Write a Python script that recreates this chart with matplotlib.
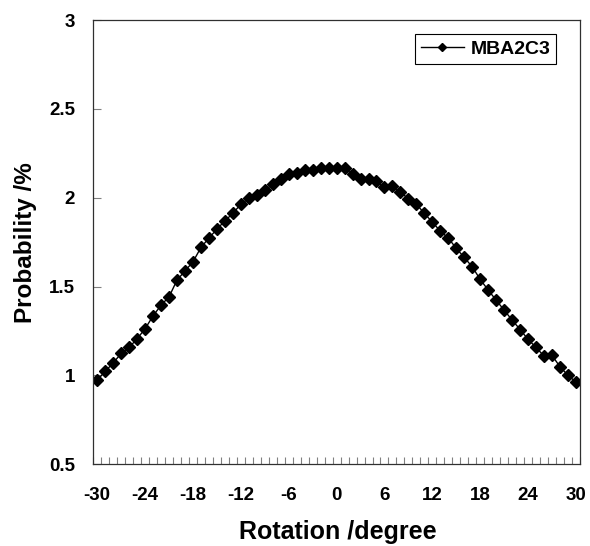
import matplotlib
matplotlib.use("Agg")
import matplotlib.pyplot as plt
import numpy as np

rotation = list(range(-30, 31))
probability = [
    0.973, 1.022, 1.070, 1.123, 1.157, 1.206, 1.262, 1.335, 1.395, 1.442,
    1.536, 1.588, 1.639, 1.720, 1.773, 1.823, 1.870, 1.912, 1.964, 1.996,
    2.018, 2.043, 2.075, 2.108, 2.133, 2.140, 2.155, 2.155, 2.170, 2.170,
    2.168,
    2.165, 2.133, 2.108, 2.103, 2.093, 2.058, 2.065, 2.032, 1.994, 1.964,
    1.912, 1.863, 1.812, 1.773, 1.715, 1.664, 1.611, 1.540, 1.480, 1.423,
    1.367, 1.311, 1.258, 1.202, 1.157, 1.108, 1.112, 1.048, 1.000, 0.962,
]
x_ticks = list(range(-30, 31, 6))
y_ticks = [0.5, 1, 1.5, 2, 2.5, 3]
y_tick_labels = ["0.5", "1", "1.5", "2", "2.5", "3"]
series_name = "MBA2C3"

plt.rcParams['font.family'] = ['Liberation Sans', 'DejaVu Sans']
plt.rcParams['axes.unicode_minus'] = False

fig = plt.figure(figsize=(5.9, 5.46), dpi=100)
ax = fig.add_axes([0.158, 0.150, 0.825, 0.813])

ax.plot(rotation, probability, color="black", lw=1, marker="D",
        markersize=6, label=series_name)

# category-style axis: points sit mid-category, ticks between categories
ax.set_xlim(rotation[0] - 0.5, rotation[-1] + 0.5)
ax.set_ylim(0.5, 3)
ax.set_xticks(x_ticks)
ax.set_xticks(np.arange(rotation[0] - 0.5, rotation[-1] + 1, 1), minor=True)
ax.set_yticks(y_ticks)
ax.set_yticklabels(y_tick_labels)

ax.tick_params(axis="x", which="major", length=0, pad=16.5, labelsize=13.5)
ax.tick_params(axis="x", which="minor", direction="in", length=5, width=0.8,
               color="#808080")
ax.tick_params(axis="y", which="major", direction="in", length=6, width=0.8,
               color="#808080", pad=13, labelsize=13.5)
for lab in ax.get_xticklabels() + ax.get_yticklabels():
    lab.set_fontweight("bold")

for s in ax.spines.values():
    s.set_color("#303030")
    s.set_linewidth(0.9)

ax.set_xlabel("Rotation /degree", fontsize=18, fontweight="bold")
ax.xaxis.set_label_coords(0.502, -0.126)
ax.set_ylabel("Probability /%", fontsize=17.5, fontweight="bold", labelpad=9)

leg = ax.legend(loc="upper right", bbox_to_anchor=(0.951, 0.968),
                borderaxespad=0, fancybox=False, edgecolor="black",
                framealpha=1, prop={"weight": "bold", "size": 14},
                handlelength=2.2, handletextpad=0.35, borderpad=0.3,
                markerscale=0.65)
leg.get_frame().set_linewidth(0.8)

fig.savefig("out.png", dpi=100)
